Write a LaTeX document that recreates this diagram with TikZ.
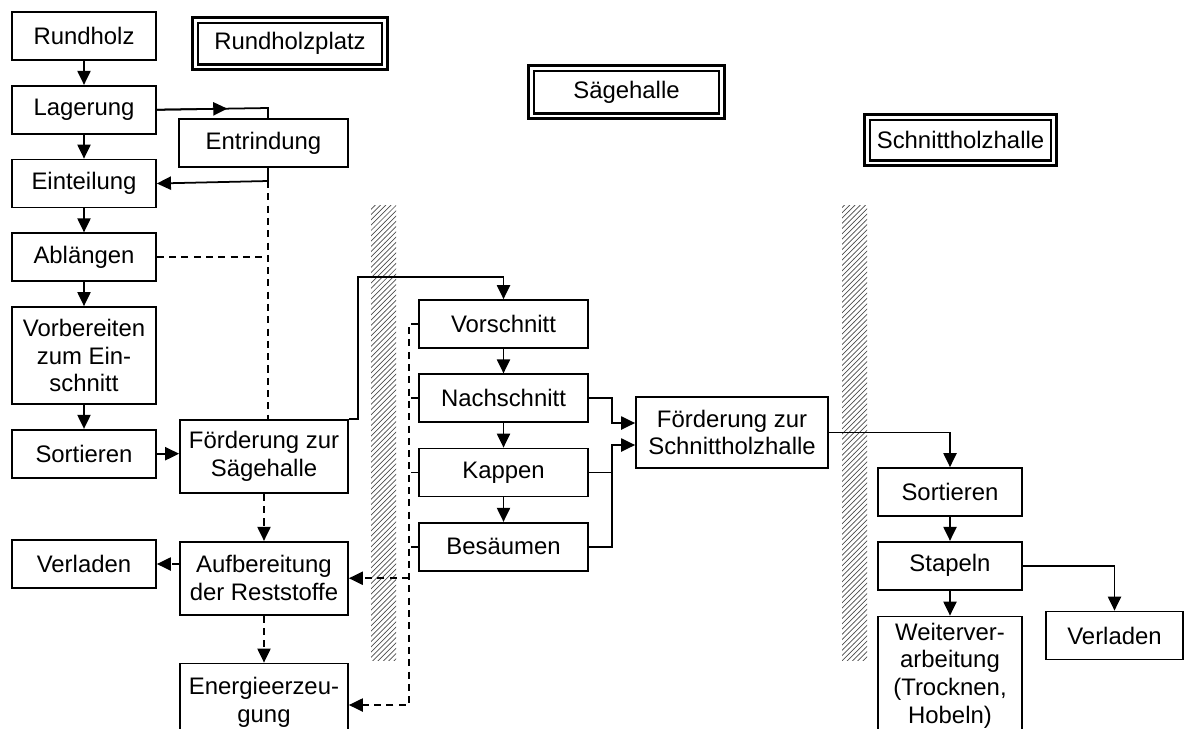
\documentclass[tikz,border=0pt]{standalone}
\usepackage{fontspec}
\setmainfont{Liberation Sans}
\usetikzlibrary{arrows.meta,patterns,positioning,calc}

\tikzstyle{box}=[draw, line width=1pt, inner sep=0pt, align=center,
                 minimum width=2.88cm, minimum height=0.96cm]
\tikzstyle{hall}=[draw, double, line width=1.6pt, double distance=1.7pt,
                  inner sep=0pt]
\tikzstyle{wall}=[pattern=north east lines, pattern color=black!70]
\tikzstyle{plain}=[line width=1pt]
\tikzstyle{flow}=[line width=1pt, -{Triangle[length=8pt,width=7.5pt]}]
\tikzstyle{waste}=[line width=1pt, dash pattern=on 4pt off 3pt]
\tikzstyle{waste flow}=[waste, -{Triangle[length=8pt,width=7.5pt]}]

\begin{document}
\begin{tikzpicture}[x=0.02cm, y=-0.02cm, font=\fontsize{13.6pt}{15.8pt}\selectfont,
                    node distance=0.48cm]
\useasboundingbox (0,0) rectangle (1184,728);

% walls between the halls
\fill[wall] (371,205) rectangle (396,660);
\fill[wall] (842,205) rectangle (867,660);

% hall labels
\node[hall, minimum width=3.8cm, minimum height=0.94cm] (platz) at (290,43.5) {Rundholzplatz};
\node[hall, minimum width=3.82cm, minimum height=0.96cm] (saege) at (626.5,92) {Sägehalle};
\node[hall, minimum width=3.74cm, minimum height=0.92cm] (schnitt) at (960.5,140) {Schnittholzhalle};

% Rundholzplatz
\node[box] (rundholz) at (84,36) {Rundholz};
\node[box, below=of rundholz] (lagerung) {Lagerung};
\node[box, below=of lagerung] (einteilung) {Einteilung};
\node[box, below=of einteilung] (ablaengen) {Ablängen};
\node[box, below=of ablaengen, minimum height=1.94cm] (vorbereiten) {Vorbereiten\\zum Ein-\\schnitt};
\node[box, below=of vorbereiten] (sortierenL) {Sortieren};
\node[box] (verladenL) at (84,564) {Verladen};

\node[box, minimum width=3.38cm] (entrindung) at (263.5,143) {Entrindung};
\node[box, minimum width=3.36cm, minimum height=1.46cm] (foerderS) at (264,456.5) {Förderung zur\\Sägehalle};
\node[box, below=0.94cm of foerderS, minimum width=3.36cm, minimum height=1.46cm] (aufbereitung) {Aufbereitung\\der Reststoffe};
\node[box, below=0.94cm of aufbereitung, minimum width=3.36cm, minimum height=1.56cm] (energie) {Energieerzeu-\\gung};

% Saegehalle
\node[box, minimum width=3.38cm] (vorschnitt) at (503.5,324) {Vorschnitt};
\node[box, below=0.49cm of vorschnitt, minimum width=3.38cm] (nachschnitt) {Nachschnitt};
\node[box, below=0.49cm of nachschnitt, minimum width=3.38cm] (kappen) {Kappen};
\node[box, below=0.49cm of kappen, minimum width=3.38cm] (besaeumen) {Besäumen};
\node[box, minimum width=3.84cm, minimum height=1.42cm] (foerderH) at (732,432.5) {Förderung zur\\Schnittholzhalle};

% Schnittholzhalle
\node[box] (sortierenR) at (950,492) {Sortieren};
\node[box, below=of sortierenR] (stapeln) {Stapeln};
\node[box, below=0.5cm of stapeln, minimum height=2.36cm] (weiter) {Weiterver-\\arbeitung\\(Trocknen,\\Hobeln)};
\node[box, minimum width=2.74cm] (verladenR) at (1114.5,635.5) {Verladen};

\coordinate (e1) at (268,108);
\coordinate (e2) at (268,181);
\coordinate (s1) at (358,277);
\coordinate (d1) at (409,705);
\coordinate (j1) at (612,423);
\coordinate (j2) at (612,445);

% main flow
\foreach \a/\b in {rundholz/lagerung, lagerung/einteilung, einteilung/ablaengen,
                   ablaengen/vorbereiten, vorbereiten/sortierenL,
                   vorschnitt/nachschnitt, nachschnitt/kappen, kappen/besaeumen,
                   sortierenR/stapeln, stapeln/weiter}
  \draw[flow] (\a) -- (\b);

\draw[plain] (lagerung.east) -- (e1) -- (e1 |- entrindung.north);
\draw[flow] (lagerung.east) -- ($(lagerung.east)!0.634!(e1)$);
\draw[flow] (e2 |- entrindung.south) -- (e2) -- (einteilung.east);
\draw[flow] (sortierenL.east) -- (sortierenL.east -| foerderS.west);
\draw[flow] (foerderS.north east) -| (s1) -| (vorschnitt.north);

\draw[flow] (nachschnitt.east) -| (j1) -- (j1 -| foerderH.west);
\draw[plain] (kappen.east) -- (kappen.east -| j2);
\draw[flow] (besaeumen.east) -| (j2) -- (j2 -| foerderH.west);
\draw[flow] (foerderH.east) -| (sortierenR.north);
\draw[flow] (stapeln.east) -| (verladenR.north);

% residues
\draw[waste] (e2) -- (e2 |- foerderS.north);
\draw[waste] (ablaengen.east) -- (ablaengen.east -| e2);
\draw[waste flow] (vorschnitt.west) -| (d1) -- (d1 -| energie.east);
\foreach \s in {nachschnitt, kappen, besaeumen}
  \draw[waste] (\s.west) -- (\s.west -| d1);
\draw[waste flow] (aufbereitung.east -| d1) -- (aufbereitung.east);
\draw[waste flow] (foerderS) -- (aufbereitung);
\draw[waste flow] (aufbereitung) -- (energie);
\draw[waste flow] (aufbereitung.west |- verladenL.east) -- (verladenL.east);
\end{tikzpicture}
\end{document}
